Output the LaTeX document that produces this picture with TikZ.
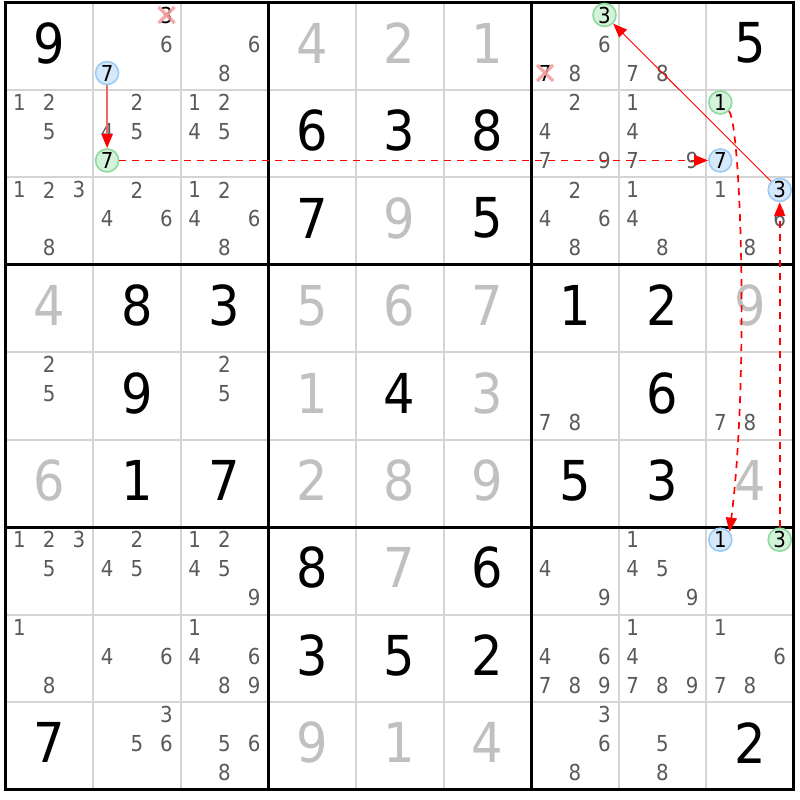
\documentclass[tikz,border=0pt]{standalone}
\usepackage{fontspec}
\setmainfont{DejaVu Sans}[FakeStretch=0.9]
\usetikzlibrary{arrows.meta}
\definecolor{candgray}{HTML}{5A5A5A}
\definecolor{givengray}{HTML}{C0C0C0}
\definecolor{thingrid}{HTML}{D4D4D4}
\definecolor{bluefill}{HTML}{D6E9FB}
\definecolor{blueline}{HTML}{9ACBF4}
\definecolor{greenfill}{HTML}{D4F3DB}
\definecolor{greenline}{HTML}{8ED99E}
\definecolor{xpink}{HTML}{F49A9A}
\definecolor{softred}{HTML}{F26666}
\newcommand\CX[2]{5.5+(#1-1)*87.6+14+mod((#2)-1,3)*29.7}
\newcommand\CY[2]{2.5+(#1-1)*87.45+12.5+floor(((#2)-1)/3)*29}
\newcommand\GX[1]{5.5+(#1-0.5)*87.6}
\newcommand\GY[1]{2.5+(#1-0.5)*87.45-3}
\begin{document}
\begin{tikzpicture}[x=1pt,y=-1pt,
  thingridline/.style={draw=thingrid,line width=2pt},
  thickgridline/.style={draw=black,line width=3pt,line cap=rect},
  cand/.style={inner sep=0pt,font=\fontsize{22}{22}\selectfont,text=candgray},
  bk/.style={inner sep=0pt,font=\fontsize{55}{55}\selectfont,text=black},
  gy/.style={bk,text=givengray},
  bluec/.style={circle,draw=blueline,fill=bluefill,line width=1.6pt,minimum size=23pt,inner sep=0pt,font=\fontsize{22}{22}\selectfont,text=black},
  greenc/.style={bluec,draw=greenline,fill=greenfill},
  xmark/.style={draw=xpink,line width=3.2pt,opacity=0.85},
  slink/.style={draw=softred,line width=1.8pt,-{Triangle[length=14pt,width=11pt,color=red]}},
  tlink/.style={draw=red,line width=0.9pt,-{Triangle[length=14pt,width=11pt]}},
  dlink/.style={draw=red,line width=1.7pt,dash pattern=on 7pt off 6pt,-{Triangle[length=14pt,width=11pt]}}]
\useasboundingbox (0,0) rectangle (800,800);
\fill[white] (0,0) rectangle (800,800);
% grid
\foreach \i in {1,2,4,5,7,8} {
  \draw[thingridline] ({5.5+\i*87.6},2.5) -- ({5.5+\i*87.6},789.55);
  \draw[thingridline] (5.5,{2.5+\i*87.45}) -- (793.9,{2.5+\i*87.45});
}
\foreach \i in {0,3,6,9} {
  \draw[thickgridline] ({5.5+\i*87.6},2.5) -- ({5.5+\i*87.6},789.55);
  \draw[thickgridline] (5.5,{2.5+\i*87.45}) -- (793.9,{2.5+\i*87.45});
}
% given digits
\foreach \r/\c/\d in {1/1/9,1/9/5,2/4/6,2/5/3,2/6/8,3/4/7,3/6/5,4/2/8,4/3/3,4/7/1,4/8/2,
  5/2/9,5/5/4,5/8/6,6/2/1,6/3/7,6/7/5,6/8/3,7/4/8,7/6/6,8/4/3,8/5/5,8/6/2,9/1/7,9/9/2}
  \node[bk] (g\r\c) at ({\GX{\c}},{\GY{\r}}) {\d};
\foreach \r/\c/\d in {1/4/4,1/5/2,1/6/1,3/5/9,4/1/4,4/4/5,4/5/6,4/6/7,4/9/9,5/4/1,5/6/3,
  6/1/6,6/4/2,6/5/8,6/6/9,6/9/4,7/5/7,9/4/9,9/5/1,9/6/4}
  \node[gy] (g\r\c) at ({\GX{\c}},{\GY{\r}}) {\d};
% candidates
\foreach \r/\c/\ds in {1/2/{6},1/3/{6,8},1/7/{6,8},1/8/{7,8},
  2/1/{1,2,5},2/2/{2,4,5},2/3/{1,2,4,5},2/7/{2,4,7,9},2/8/{1,4,7,9},
  3/1/{1,2,3,8},3/2/{2,4,6},3/3/{1,2,4,6,8},3/7/{2,4,6,8},3/8/{1,4,8},3/9/{1,6,8},
  5/1/{2,5},5/3/{2,5},5/7/{7,8},5/9/{7,8},
  7/1/{1,2,3,5},7/2/{2,4,5},7/3/{1,2,4,5,9},7/7/{4,9},7/8/{1,4,5,9},
  8/1/{1,8},8/2/{4,6},8/3/{1,4,6,8,9},8/7/{4,6,7,8,9},8/8/{1,4,7,8,9},8/9/{1,6,7,8},
  9/2/{3,5,6},9/3/{5,6,8},9/7/{3,6,8},9/8/{5,8}}
  { \foreach \d in \ds { \node[cand] (c\r\c\d) at ({\CX{\c}{\d}},{\CY{\r}{\d}}) {\d}; } }
% eliminated candidates
\node[cand,text=black] (c123) at ({\CX{2}{3}},{\CY{1}{3}}) {3};
\node[cand,text=black] (c177) at ({\CX{7}{7}},{\CY{1}{7}}) {7};
\draw[xmark] ([shift={(-8,-8)}]c123.center) -- ([shift={(8,8)}]c123.center);
\draw[xmark] ([shift={(-8,8)}]c123.center) -- ([shift={(8,-8)}]c123.center);
\draw[xmark] ([shift={(-8,-8)}]c177.center) -- ([shift={(8,8)}]c177.center);
\draw[xmark] ([shift={(-8,8)}]c177.center) -- ([shift={(8,-8)}]c177.center);
% chain candidates
\node[bluec] (c127) at ({\CX{2}{7}},{\CY{1}{7}}) {7};
\node[greenc] (c227) at ({\CX{2}{7}},{\CY{2}{7}}) {7};
\node[greenc] (c291) at ({\CX{9}{1}},{\CY{2}{1}}) {1};
\node[bluec] (c297) at ({\CX{9}{7}},{\CY{2}{7}}) {7};
\node[bluec] (c393) at ({\CX{9}{3}},{\CY{3}{3}}) {3};
\node[bluec] (c791) at ({\CX{9}{1}},{\CY{7}{1}}) {1};
\node[greenc] (c793) at ({\CX{9}{3}},{\CY{7}{3}}) {3};
\node[greenc] (c173) at ({\CX{7}{3}},{\CY{1}{3}}) {3};
% links
\draw[slink] (c127) -- (c227);
\draw[dlink] (c227) -- (c297);
\draw[dlink] (c291.-45) .. controls (741,125) and (749,380) .. (c791.41);
\draw[dlink] (c793) -- (c393);
\draw[tlink] (c393) -- (c173);
\end{tikzpicture}
\end{document}
